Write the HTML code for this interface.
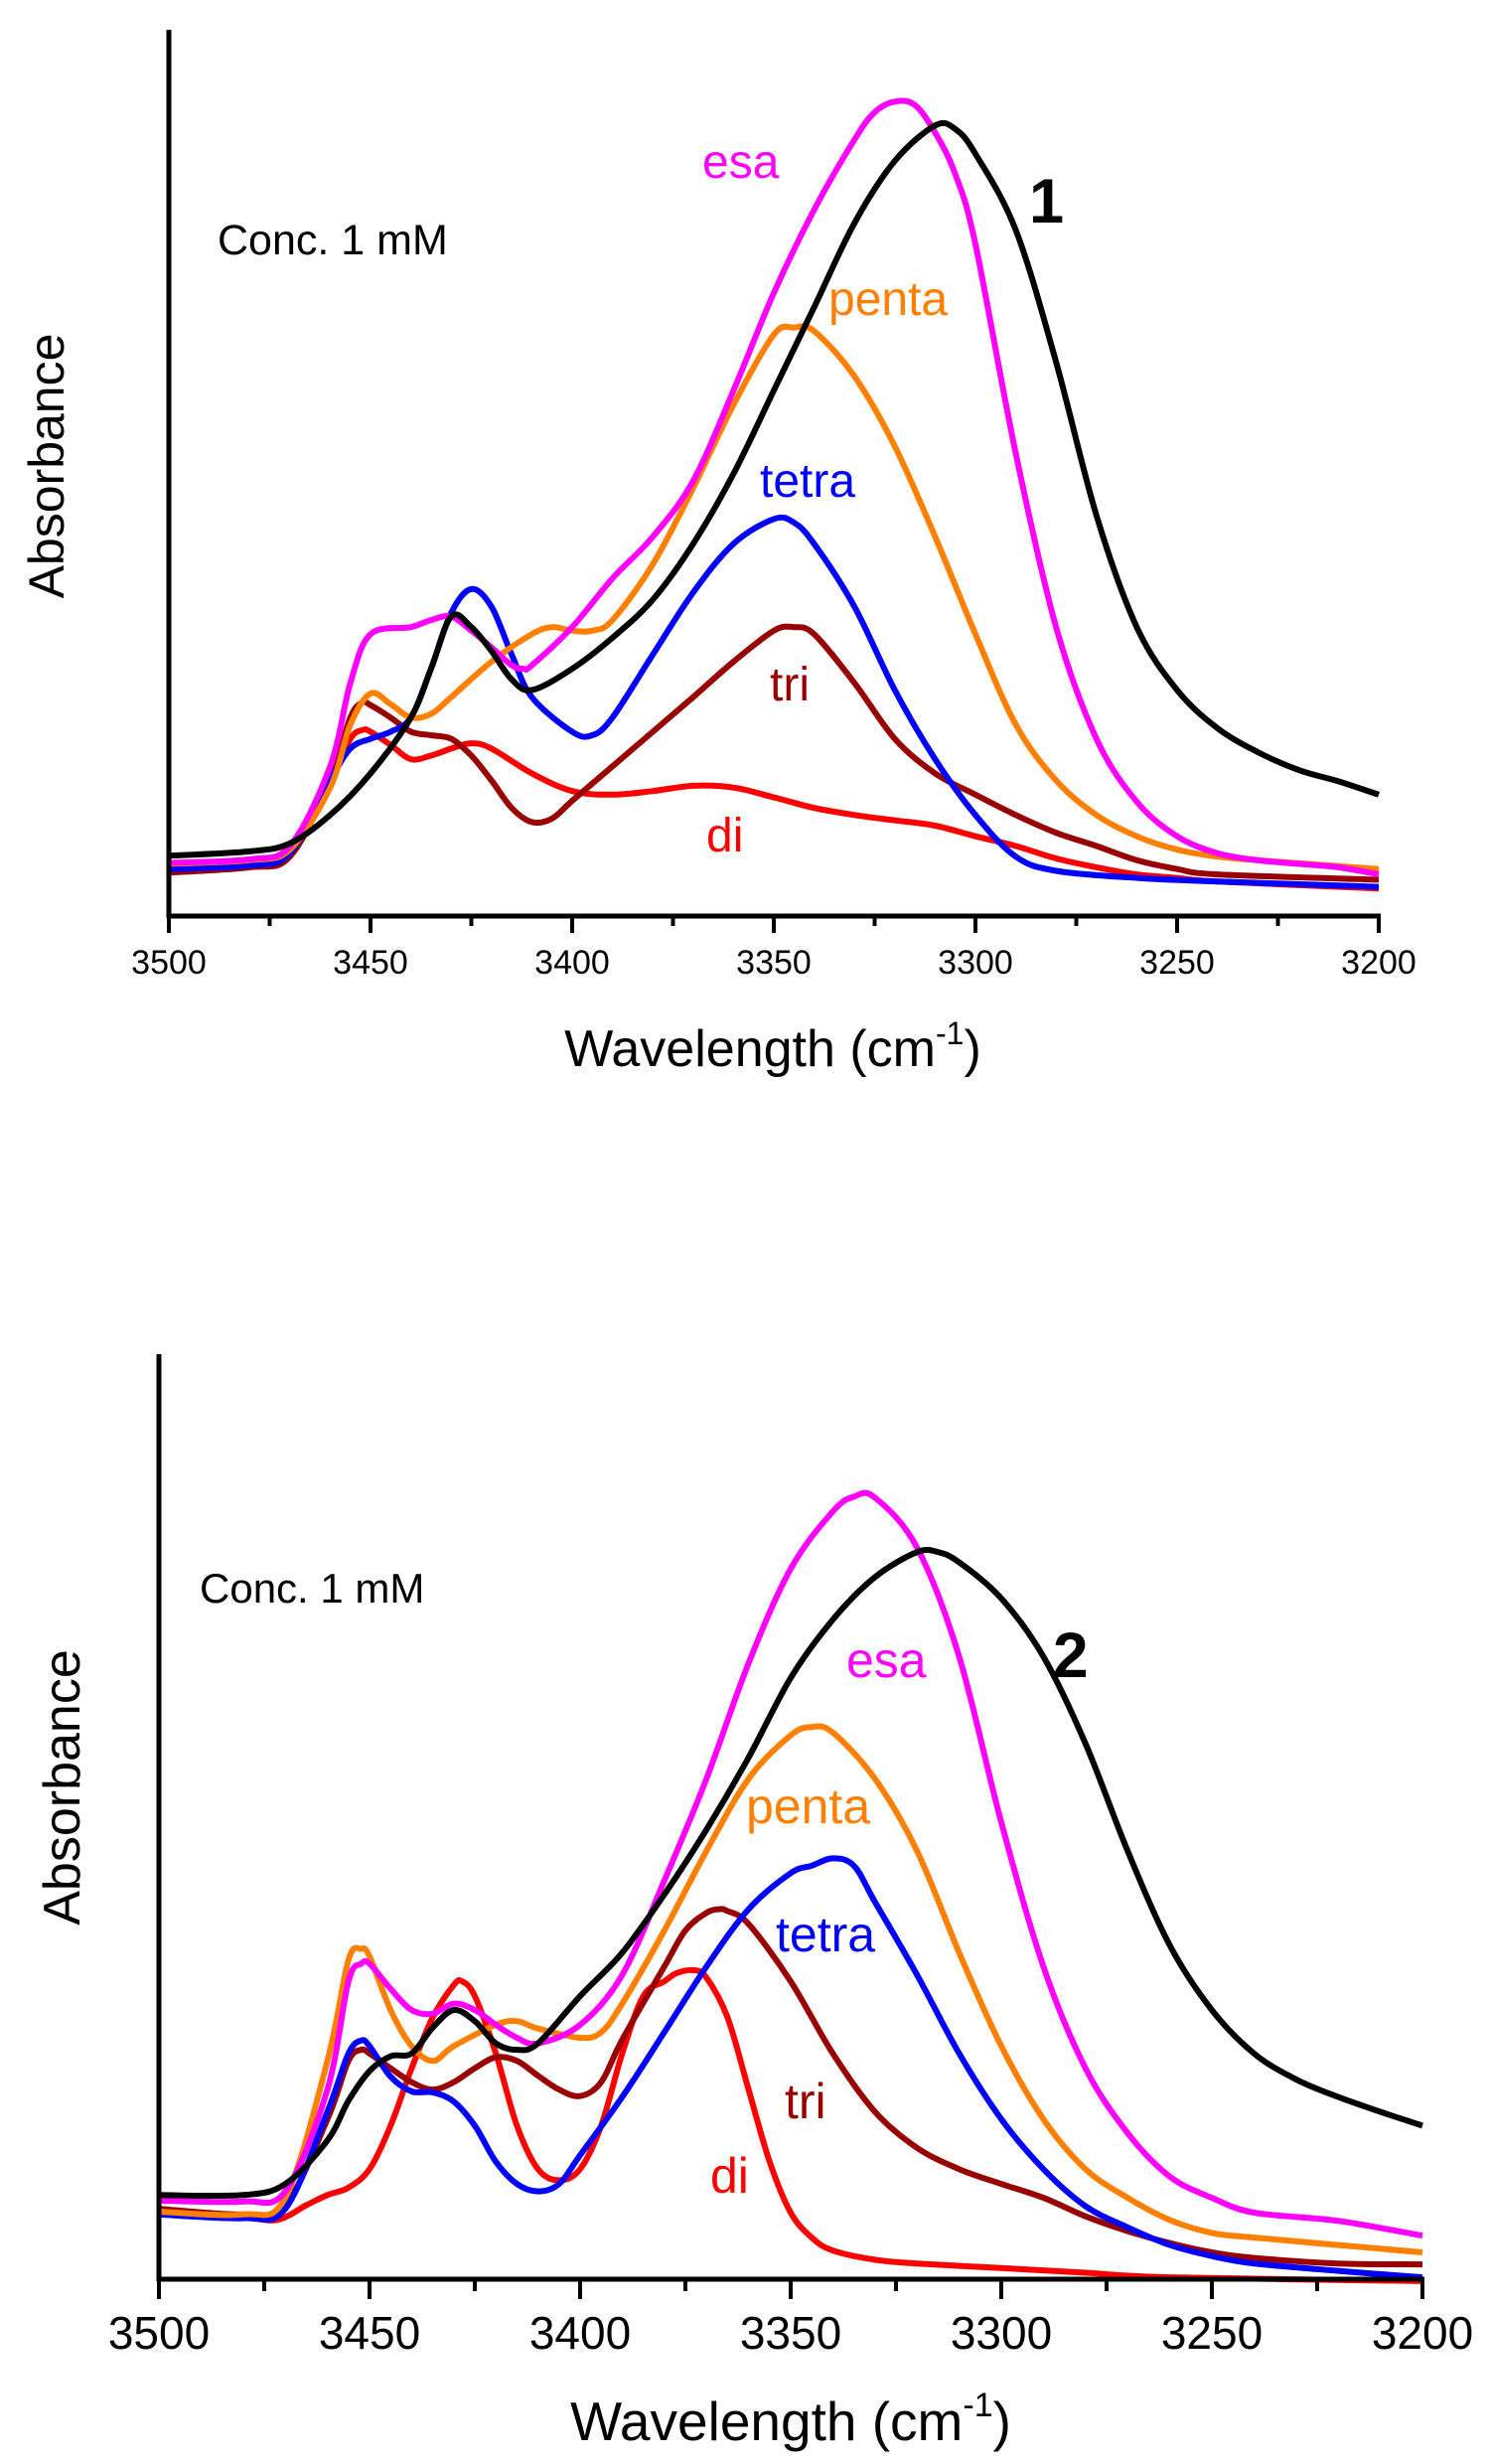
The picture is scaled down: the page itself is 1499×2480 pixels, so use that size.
<!DOCTYPE html>
<html><head><meta charset="utf-8"><style>
html,body{margin:0;padding:0;background:#fff}
svg{display:block}
text{font-family:"Liberation Sans",Arial,sans-serif}
</style></head><body>
<svg id="fig" width="1499" height="2480" viewBox="0 0 1499 2480" xmlns="http://www.w3.org/2000/svg"></svg>
<script>
// ---------- Panel 1 data (wavenumber cm-1, absorbance a.u. 0-100) ----------
const p1_black_w=[3500,3480,3470,3460,3450,3440,3435,3430,3425,3420,3415,3410,3400,3390,3380,3370,3360,3350,3340,3330,3320,3310,3305,3300,3290,3280,3270,3260,3250,3240,3230,3220,3210,3200];
const p1_black_a=[6.8,7.3,8.2,11.4,16.1,22.4,27.9,33.8,32.6,29.9,26.7,25.5,27.9,31.4,35.7,42.0,49.9,59.3,68.7,78.2,85.2,89.2,88.8,86.0,77.4,62.5,45.2,32.6,25.5,21.2,18.5,16.5,15.2,13.7];
const p1_esa_w=[3500,3480,3470,3460,3455,3450,3440,3435,3430,3425,3420,3415,3412,3410,3400,3390,3380,3370,3360,3350,3340,3330,3325,3320,3315,3310,3305,3300,3290,3280,3270,3260,3250,3240,3230,3220,3210,3200];
const p1_esa_a=[6.0,6.4,7.9,16.9,26.3,31.8,32.6,33.4,33.8,32.2,30.3,28.3,27.9,28.3,32.6,38.1,42.8,49.1,59.3,70.3,79.7,87.6,90.7,91.9,91.5,88.4,83.7,75.8,52.2,32.6,20.0,12.9,9.0,7.1,6.3,5.9,5.5,4.7];
const p1_penta_w=[3500,3480,3470,3460,3455,3450,3445,3440,3435,3430,3420,3410,3405,3400,3395,3390,3380,3370,3360,3350,3345,3340,3330,3320,3310,3300,3290,3280,3270,3260,3250,3240,3230,3200];
const p1_penta_a=[5.9,6.3,7.5,14.5,21.6,25.1,23.9,22.4,22.8,24.7,28.7,31.8,32.6,32.2,32.2,33.4,39.7,48.3,57.7,65.6,66.4,66.0,60.9,53.0,42.8,31.8,21.6,15.3,11.4,9.0,7.5,6.7,6.3,5.3];
const p1_tetra_w=[3500,3480,3470,3460,3455,3450,3445,3440,3435,3430,3425,3420,3415,3410,3400,3395,3390,3380,3370,3360,3350,3345,3340,3330,3320,3310,3300,3290,3280,3260,3240,3200];
const p1_tetra_a=[5.3,5.7,7.1,15.3,18.9,20.0,20.8,22.4,27.9,34.2,36.9,34.9,29.5,24.7,20.8,20.4,22.4,29.5,36.5,42.0,44.8,44.4,42.0,34.9,25.5,17.7,11.4,6.7,5.1,4.3,3.9,3.3];
const p1_tri_w=[3500,3480,3470,3460,3455,3452,3450,3445,3440,3435,3430,3425,3420,3415,3410,3405,3400,3390,3380,3370,3360,3350,3345,3340,3330,3320,3310,3300,3290,3280,3270,3260,3250,3240,3200];
const p1_tri_a=[4.9,5.5,6.7,15.3,22.4,24.1,23.8,22.4,20.8,20.4,20.0,18.1,15.3,12.2,10.6,11.0,13.0,16.9,20.8,24.7,28.7,32.2,32.6,31.8,26.3,20.0,16.1,13.7,11.4,9.4,7.9,6.3,5.3,4.7,4.1];
const p1_di_w=[3500,3480,3470,3460,3455,3452,3450,3445,3440,3435,3430,3425,3420,3410,3400,3390,3380,3370,3360,3350,3340,3330,3320,3310,3300,3290,3280,3270,3260,3250,3240,3200];
const p1_di_a=[5.1,5.5,7.1,15.3,20.0,21.0,20.8,19.3,17.7,18.1,18.9,19.5,18.9,16.1,14.1,13.7,14.1,14.7,14.5,13.4,12.2,11.4,10.8,10.2,9.0,7.9,6.5,5.5,4.7,4.3,3.9,3.1];

// ---------- Panel 2 data ----------
const p2_black_w=[3500,3480,3470,3460,3455,3450,3445,3440,3435,3430,3425,3420,3415,3410,3400,3390,3380,3370,3360,3350,3340,3330,3320,3315,3310,3300,3290,3280,3270,3260,3250,3240,3230,3220,3210,3200];
const p2_black_a=[9.1,9.1,10.3,15.0,19.3,22.5,24.1,24.4,27.2,29.1,27.9,25.5,24.8,25.5,30.6,35.3,41.6,48.6,56.4,65.0,71.3,75.9,78.6,78.6,77.5,73.6,67.3,57.9,46.3,36.1,29.1,24.4,21.6,19.7,18.1,16.6];
const p2_esa_w=[3500,3480,3470,3460,3455,3452,3450,3445,3440,3435,3430,3425,3420,3415,3410,3400,3390,3380,3370,3360,3350,3340,3335,3330,3320,3310,3300,3290,3280,3270,3260,3250,3240,3220,3200];
const p2_esa_a=[8.5,8.4,9.5,20.5,32.2,34.1,34.1,31.4,29.1,28.7,29.8,29.1,27.5,26.1,25.5,27.5,32.9,43.1,54.1,66.6,76.8,83.0,84.6,84.5,79.1,67.3,49.4,33.8,22.8,15.8,11.1,8.8,7.2,6.3,4.7];
const p2_penta_w=[3500,3480,3470,3460,3455,3452,3450,3445,3440,3435,3430,3420,3415,3410,3400,3395,3390,3380,3370,3360,3350,3345,3340,3330,3320,3310,3300,3290,3280,3270,3260,3250,3240,3220,3200];
const p2_penta_a=[7.3,7.0,8.8,23.6,34.5,35.7,34.9,29.1,25.2,23.6,25.2,27.5,27.9,27.1,26.1,26.7,29.8,37.7,46.3,54.1,58.8,59.7,59.1,54.1,46.3,35.3,25.2,17.3,11.9,8.8,6.4,5.0,4.5,3.7,2.9];
const p2_tetra_w=[3500,3480,3470,3460,3455,3452,3450,3445,3440,3435,3430,3425,3420,3415,3410,3405,3400,3390,3380,3370,3360,3350,3345,3340,3335,3330,3320,3310,3300,3290,3280,3270,3260,3250,3240,3220,3200];
const p2_tetra_a=[7.0,6.6,7.6,18.1,24.4,25.8,25.2,21.9,20.3,20.2,19.2,16.6,12.7,10.3,9.5,10.3,13.4,19.7,26.7,33.8,40.0,43.9,44.7,45.5,44.7,40.8,32.9,24.4,17.3,11.9,7.9,5.6,3.7,2.5,1.7,0.9,0.2];
const p2_tri_w=[3500,3480,3470,3460,3455,3452,3450,3445,3440,3435,3430,3425,3420,3415,3410,3405,3400,3395,3390,3380,3375,3370,3367,3365,3360,3350,3340,3330,3320,3310,3300,3290,3280,3270,3260,3250,3240,3220,3200];
const p2_tri_a=[7.6,7.0,8.0,17.3,23.6,24.8,24.4,22.8,21.3,20.5,21.3,22.8,24.0,23.6,22.0,20.5,19.8,21.3,25.9,33.8,37.7,39.6,40.0,39.8,38.4,32.2,24.4,18.1,14.2,11.9,10.3,8.8,6.8,5.2,3.9,2.9,2.3,1.7,1.6];
const p2_di_w=[3500,3480,3472,3465,3460,3455,3450,3445,3440,3435,3430,3428,3425,3420,3415,3410,3405,3400,3395,3390,3385,3380,3377,3373,3370,3365,3360,3355,3350,3345,3340,3330,3320,3300,3280,3260,3200];
const p2_di_a=[7.6,6.8,6.4,8.0,9.1,9.9,11.9,16.6,22.8,28.3,31.8,32.2,30.6,24.4,16.6,11.9,10.7,11.9,16.6,24.4,30.6,32.2,33.1,33.4,32.6,28.3,20.5,12.7,7.2,4.5,3.1,2.1,1.7,1.2,0.7,0.2,-0.2];

const xTicks=[3500,3450,3400,3350,3300,3250,3200];
const xTickLabels=["3500","3450","3400","3350","3300","3250","3200"];

const NS="http://www.w3.org/2000/svg";
const svg=document.getElementById('fig');
function mk(tag,attrs,parent){const e=document.createElementNS(NS,tag);for(const k in attrs)e.setAttribute(k,attrs[k]);(parent||svg).appendChild(e);return e;}

function panel(cfg){
  const g=mk('g',{});
  
  
  const X=w=>cfg.x0+(3500-w)/300*(cfg.x1-cfg.x0);
  const Y=a=>cfg.yb-a/100*(cfg.yb-cfg.yt);
  cfg.series.forEach(s=>{
    const pts=s.w.map((w,i)=>[X(w),Y(s.a[i])]);
    let d='M'+pts[0][0].toFixed(1)+','+pts[0][1].toFixed(1);
    for(let i=0;i<pts.length-1;i++){
      const p0=pts[Math.max(0,i-1)],p1=pts[i],p2=pts[i+1],p3=pts[Math.min(pts.length-1,i+2)];
      const c1=[p1[0]+(p2[0]-p0[0])/6,p1[1]+(p2[1]-p0[1])/6];
      const c2=[p2[0]-(p3[0]-p1[0])/6,p2[1]-(p3[1]-p1[1])/6];
      d+='C'+c1[0].toFixed(1)+','+c1[1].toFixed(1)+' '+c2[0].toFixed(1)+','+c2[1].toFixed(1)+' '+p2[0].toFixed(1)+','+p2[1].toFixed(1);
    }
    const p=mk('path',{d:d,fill:'none',stroke:s.color,'stroke-width':cfg.lw,'stroke-linejoin':'round'},g);
    
    
  });
  const ya=mk('line',{x1:cfg.x0,y1:cfg.yt,x2:cfg.x0,y2:cfg.yb+2,stroke:'#000','stroke-width':5},g);
  
  
  const xa=mk('line',{x1:cfg.x0-2,y1:cfg.yb,x2:cfg.x1+2,y2:cfg.yb,stroke:'#000','stroke-width':5},g);
  
  
  for(let w=3500;w>=3200;w-=25){
    const major=(w%50===0);
    const t=mk('line',{x1:X(w),y1:cfg.yb,x2:X(w),y2:cfg.yb+(major?cfg.tmaj:cfg.tmin),stroke:'#000','stroke-width':4},g);
    
    
  }
  xTicks.forEach((w,i)=>{
    const t=mk('text',{x:X(w),y:cfg.tly,'font-size':cfg.tfs,'text-anchor':'middle',fill:'#000'},g);
    t.textContent=xTickLabels[i];
    
    
  });
  return g;
}

panel({name:'panel-1',x0:170,x1:1388,yt:30,yb:922,lw:6,tmaj:17,tmin:10,tly:980,tfs:34,series:[
 {id:'di',color:'#ff0000',w:p1_di_w,a:p1_di_a},
 {id:'tri',color:'#990000',w:p1_tri_w,a:p1_tri_a},
 {id:'tetra',color:'#0000ff',w:p1_tetra_w,a:p1_tetra_a},
 {id:'penta',color:'#ff8000',w:p1_penta_w,a:p1_penta_a},
 {id:'esa',color:'#ff00ff',w:p1_esa_w,a:p1_esa_a},
 {id:'compound-1',color:'#000000',w:p1_black_w,a:p1_black_a}]});
panel({name:'panel-2',x0:160,x1:1432,yt:1363,yb:2294,lw:6,tmaj:20,tmin:12,tly:2364,tfs:46,series:[
 {id:'di',color:'#ff0000',w:p2_di_w,a:p2_di_a},
 {id:'tri',color:'#990000',w:p2_tri_w,a:p2_tri_a},
 {id:'tetra',color:'#0000ff',w:p2_tetra_w,a:p2_tetra_a},
 {id:'penta',color:'#ff8000',w:p2_penta_w,a:p2_penta_a},
 {id:'esa',color:'#ff00ff',w:p2_esa_w,a:p2_esa_a},
 {id:'compound-2',color:'#000000',w:p2_black_w,a:p2_black_a}]});
</script>
<svg style="position:absolute;left:0;top:0" width="1499" height="2480" viewBox="0 0 1499 2480" xmlns="http://www.w3.org/2000/svg">
 <g font-family="Liberation Sans, Arial, sans-serif">
  <text x="219" y="256" font-size="43">Conc. 1 mM</text>
  <text x="707" y="179" font-size="48" fill="#ff00ff">esa</text>
  <text x="1036" y="224" font-size="63" font-weight="bold">1</text>
  <text x="834" y="317" font-size="48" fill="#ff8000">penta</text>
  <text x="765" y="500" font-size="48" fill="#0000ff">tetra</text>
  <text x="775" y="705" font-size="48" fill="#990000">tri</text>
  <text x="711" y="857" font-size="48" fill="#ff0000">di</text>
  <text x="778" y="1073" font-size="52" text-anchor="middle">Wavelength (cm<tspan font-size="32" dy="-22">-1</tspan><tspan dy="22">)</tspan></text>
  <text transform="translate(64,469) rotate(-90)" font-size="50" text-anchor="middle">Absorbance</text>

  <text x="201" y="1613" font-size="42">Conc. 1 mM</text>
  <text x="852" y="1688" font-size="50" fill="#ff00ff">esa</text>
  <text x="1060" y="1688" font-size="64" font-weight="bold">2</text>
  <text x="751" y="1835" font-size="50" fill="#ff8000">penta</text>
  <text x="781" y="1964" font-size="50" fill="#0000ff">tetra</text>
  <text x="790" y="2132" font-size="50" fill="#990000">tri</text>
  <text x="715" y="2207" font-size="50" fill="#ff0000">di</text>
  <text x="796" y="2456" font-size="55" text-anchor="middle">Wavelength (cm<tspan font-size="34" dy="-24">-1</tspan><tspan dy="24">)</tspan></text>
  <text transform="translate(80,1799) rotate(-90)" font-size="52" text-anchor="middle">Absorbance</text>
 </g>
</svg>
</body></html>
